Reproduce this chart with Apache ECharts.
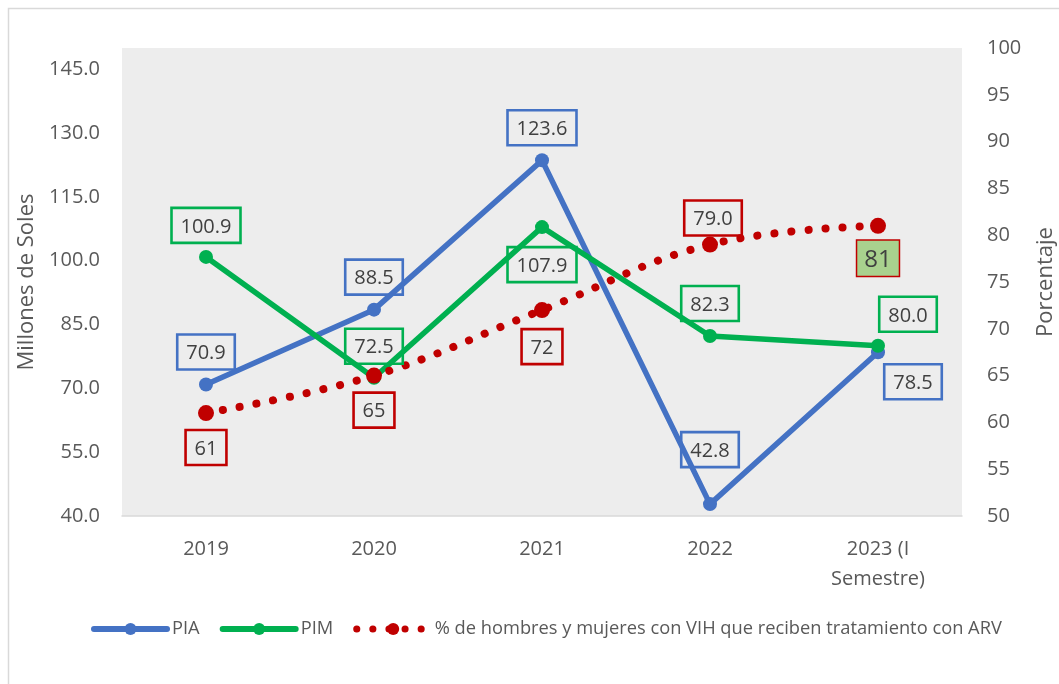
<!DOCTYPE html>
<html>
<head>
<meta charset="utf-8">
<script src="https://cdn.jsdelivr.net/npm/echarts@6/dist/echarts.min.js"></script>
<style>
html,body{margin:0;padding:0;background:#fff;}
#c{width:1059px;height:684px;}
</style>
</head>
<body>
<div id="c"></div>
<script>
const categories = ['2019', '2020', '2021', '2022', '2023 (I\nSemestre)'];
const pia = [70.9, 88.5, 123.6, 42.8, 78.5];
const pim = [100.9, 72.5, 107.9, 82.3, 80.0];
const pct = [61, 65, 72, 79.0, 81];
const pctLabelText = ['61', '65', '72', '79.0', '81'];
const leftTicks = [40, 55, 70, 85, 100, 115, 130, 145];

const FONT = 'Open Sans';
const TXT = '#404040';
const AX = '#595959';

function boxLabel(color, position, distance, offset, extra) {
  return Object.assign({
    show: true, position: position, distance: distance, offset: offset || [0, 0],
    color: TXT, fontFamily: FONT, fontSize: 20,
    borderColor: color, borderWidth: 1.3, padding: [9, 9, 6, 9],
    backgroundColor: 'transparent'
  }, extra || {});
}

const piaLabelCfg = [
  ['top', 8], ['top', 8], ['top', 8], ['top', 30], ['bottom', 5, [35, 0]]
];
const pimLabelCfg = [
  ['top', 7], ['top', 7], ['bottom', 13], ['top', 8], ['top', 7, [30, 0]]
];
const pctLabelCfg = [
  ['bottom', 9], ['bottom', 9], ['bottom', 11], ['top', 1, [3, 0]], ['bottom', 7]
];

const piaData = pia.map((v, i) => ({
  value: v,
  label: boxLabel('#4472C4', piaLabelCfg[i][0], piaLabelCfg[i][1], piaLabelCfg[i][2],
    { formatter: p => p.value.toFixed(1) })
}));
const pimData = pim.map((v, i) => ({
  value: v,
  label: boxLabel('#00B050', pimLabelCfg[i][0], pimLabelCfg[i][1], pimLabelCfg[i][2],
    { formatter: p => p.value.toFixed(1) })
}));
const pctData = pct.map((v, i) => ({
  value: v,
  label: boxLabel('#C00000', pctLabelCfg[i][0], pctLabelCfg[i][1], pctLabelCfg[i][2],
    Object.assign({ formatter: pctLabelText[i] },
      i === 4 ? { backgroundColor: '#A9D18E', fontSize: 24, padding: [7, 7, 4, 7], borderWidth: 1.5 } : {}))
}));

const PCT_NAME = '% de hombres y mujeres con VIH que reciben tratamiento con ARV';

const chart = echarts.init(document.getElementById('c'), null, { renderer: 'canvas' });
chart.setOption({
  backgroundColor: '#ffffff',
  animation: false,
  textStyle: { fontFamily: FONT },
  graphic: [{
    type: 'rect', shape: { x: 8.5, y: 8.5, width: 1100, height: 700 },
    style: { fill: 'none', stroke: '#D9D9D9', lineWidth: 1.5 }, silent: true, z: -10
  }],
  grid: { left: 122, right: 97, top: 48, bottom: 168, outerBoundsMode: 'none', containLabel: false,
    show: true, backgroundColor: '#EDEDED', borderWidth: 0 },
  legend: {
    top: 615, left: 86, itemWidth: 73, itemHeight: 15, itemGap: 20,
    textStyle: { color: AX, fontSize: 18.3, fontFamily: FONT },
    data: [
      { name: 'PIA', lineStyle: { width: 6 } },
      { name: 'PIM', lineStyle: { width: 6 } },
      { name: PCT_NAME, lineStyle: { width: 7, type: [0.1, 16] } }
    ]
  },
  xAxis: {
    type: 'category', data: categories, boundaryGap: true,
    axisLine: { show: true, lineStyle: { color: '#D9D9D9', width: 1.5 } },
    axisTick: { show: false },
    axisLabel: { color: AX, fontSize: 20, fontFamily: FONT, margin: 18, lineHeight: 30 }
  },
  yAxis: [{
    type: 'value', min: 40, max: 150,
    name: 'Millones de Soles', nameLocation: 'middle', nameGap: 80, nameRotate: 90,
    nameTextStyle: { color: AX, fontSize: 22, fontFamily: FONT },
    axisLine: { show: false }, axisTick: { show: false }, splitLine: { show: false },
    axisLabel: { color: AX, fontSize: 20, fontFamily: FONT, margin: 22,
      customValues: leftTicks, formatter: v => v.toFixed(1) }
  }, {
    type: 'value', min: 50, max: 100, interval: 5, position: 'right',
    name: 'Porcentaje', nameLocation: 'middle', nameGap: 73, nameRotate: 90,
    nameTextStyle: { color: AX, fontSize: 22, fontFamily: FONT },
    axisLine: { show: false }, axisTick: { show: false }, splitLine: { show: false },
    axisLabel: { color: AX, fontSize: 20, fontFamily: FONT, margin: 25 }
  }],
  series: [{
    name: 'PIA', type: 'line', yAxisIndex: 0, data: piaData,
    symbol: 'circle', symbolSize: 14,
    lineStyle: { color: '#4472C4', width: 5.5, cap: 'round' },
    itemStyle: { color: '#4472C4' }
  }, {
    name: 'PIM', type: 'line', yAxisIndex: 0, data: pimData,
    symbol: 'circle', symbolSize: 14,
    lineStyle: { color: '#00B050', width: 5.5, cap: 'round' },
    itemStyle: { color: '#00B050' }
  }, {
    name: PCT_NAME,
    type: 'line', yAxisIndex: 1, data: pctData, smooth: 0.4,
    symbol: 'circle', symbolSize: 16,
    lineStyle: { color: '#C00000', width: 8, type: [0.1, 17], cap: 'round' },
    itemStyle: { color: '#C00000' }
  }]
});
</script>
</body>
</html>
